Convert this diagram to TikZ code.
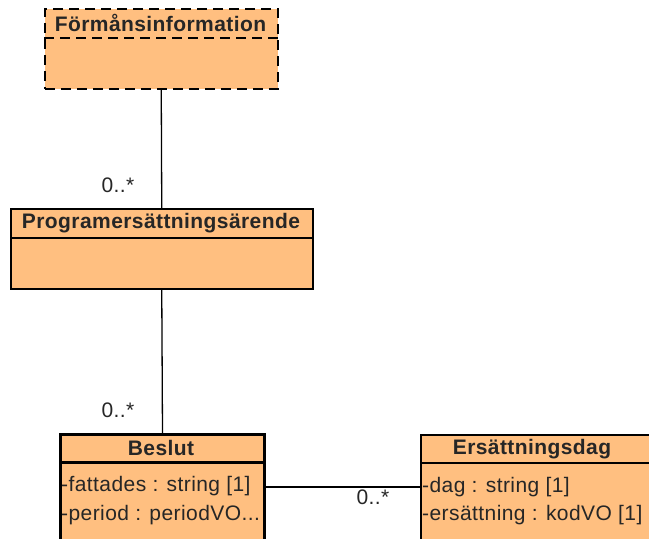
\documentclass[tikz,border=0pt]{standalone}
\usepackage{fontspec}
\setmainfont{Liberation Sans}
\newfontfamily\hdfont[LetterSpace=2]{Liberation Sans Bold}
\newfontfamily\atfont[LetterSpace=2]{Liberation Sans}
\definecolor{peach}{RGB}{255,191,128}
\begin{document}
\begin{tikzpicture}[x=1pt,y=-1pt,
  umlbox/.style={draw=black,fill=peach,line width=1.5pt,rectangle,anchor=north west,inner sep=0pt},
  hdtext/.style={font=\fontsize{21}{24}\selectfont\hdfont,inner sep=0pt,text=black!85},
  attext/.style={font=\fontsize{21}{24}\selectfont\atfont,inner sep=0pt,anchor=west,text=black!85},
  multext/.style={font=\fontsize{21}{24}\selectfont\atfont,inner sep=0pt,text=black!85},
  conn/.style={draw=black,line width=1.3pt}]
\useasboundingbox (0,0) rectangle (649,539);
\clip (0,0) rectangle (649,539);
% Förmånsinformation
\node[umlbox,dash pattern=on 10pt off 6pt,minimum width=233pt,minimum height=80pt] (form) at (44,8) {};
\draw[line width=1.5pt,dash pattern=on 10pt off 6pt] (form.north west) ++(0,30) coordinate (fd) -- (fd -| form.east);
\node[hdtext] (formhd) at (160.5,23) {Förmånsinformation};
% Programersättningsärende
\node[umlbox,minimum width=302pt,minimum height=80pt] (prog) at (10,208) {};
\draw[line width=1.5pt] (prog.north west) ++(0,30) coordinate (pd) -- (pd -| prog.east);
\node[hdtext] (proghd) at (161,223) {Programersättningsärende};
% Beslut
\node[umlbox,line width=3pt,minimum width=204pt,minimum height=130pt] (beslut) at (59,433) {};
\draw[line width=3pt] (beslut.north west) ++(0,29) coordinate (bd) -- (bd -| beslut.east);
\node[hdtext] (beslhd) at (161,448) {Beslut};
\node[attext] (ba1) at (61,486) {-fattades : string [1]};
\node[attext] (ba2) at (61,515) {-period : periodVO...};
% Ersättningsdag
\node[umlbox,minimum width=240pt,minimum height=130pt] (ers) at (420,434) {};
\draw[line width=1.5pt] (ers.north west) ++(0,29) coordinate (ed) -- (ed -| ers.east);
\node[hdtext] (ershd) at (532,449) {Ersättningsdag};
\node[attext] (ea1) at (422,487) {-dag : string [1]};
\node[attext] (ea2) at (422,515) {-ersättning : kodVO [1]};
% connectors
\draw[conn] (form.south) -- (prog.north);
\draw[conn] (prog.south) -- (beslut.north);
\draw[conn] (beslut.north east) ++(0,54) coordinate (h1) -- (h1 -| ers.west);
% multiplicities
\node[multext] (m1) at (118,185) {0..*};
\node[multext] (m2) at (118,410) {0..*};
\node[multext] (m3) at (373,497) {0..*};
\end{tikzpicture}
\end{document}
